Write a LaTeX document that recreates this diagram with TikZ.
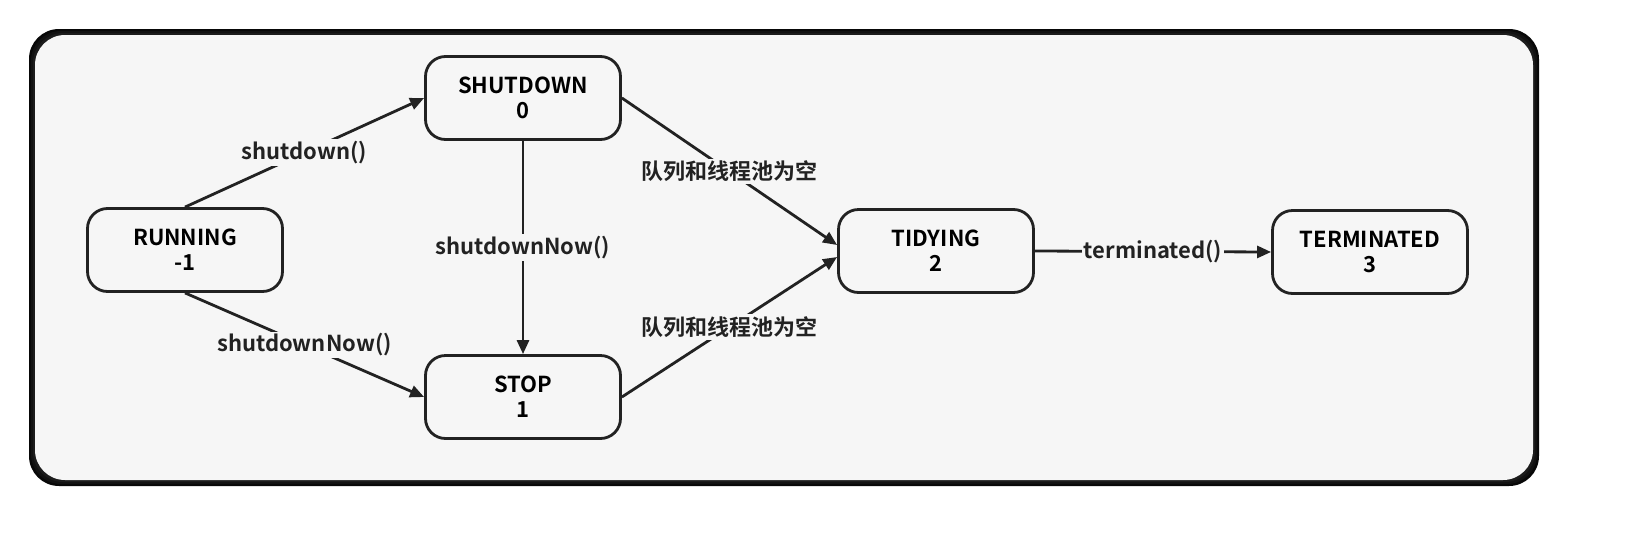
\documentclass[tikz,border=0pt]{standalone}
\usepackage{fontspec}
\setmainfont{Noto Sans CJK SC}[BoldFont=* Bold]
\usetikzlibrary{arrows.meta}
\definecolor{bg}{HTML}{F6F6F6}
\definecolor{ln}{HTML}{222222}
\begin{document}
\begin{tikzpicture}[x=0.5pt,y=-0.5pt,
  st/.style={draw=ln,line width=1.4pt,rounded corners=10pt,minimum width=97.5pt,minimum height=41.5pt,align=center,font=\bfseries\fontsize{11}{12.5}\selectfont,fill=bg},
  ed/.style={draw=ln,line width=1.4pt,-{Triangle[length=7pt,width=6pt]}},
  lb/.style={fill=bg,inner sep=1pt,font=\bfseries\fontsize{11}{12.5}\selectfont,text=ln}]
\useasboundingbox (0,0) rectangle (1646,542);
\fill[white] (0,0) rectangle (1646,542);
\foreach \i/\c in {6/97,4/93,2/89}{
  \fill[black!\c,rounded corners=15pt] (35-\i,35-\i) rectangle (1533+\i,480+\i);}
\fill[bg,rounded corners=15pt] (35,35) rectangle (1533,480);
\node[st] (run) at (185,250) {RUNNING\\-1};
\node[st] (sd) at (523,98) {SHUTDOWN\\0};
\node[st] (stop) at (523,397) {STOP\\1};
\node[st] (tidy) at (936,251) {TIDYING\\2};
\node[st] (term) at (1370,252) {TERMINATED\\3};
\draw[ed] (run.north) -- node[lb,pos=0.5]{shutdown()} (sd.west);
\draw[ed] (run.south) -- node[lb,pos=0.5]{shutdownNow()} (stop.west);
\draw[ed] (sd.south) -- node[lb]{shutdownNow()} (stop.north);
\draw[ed] (sd.east) -- node[lb,pos=0.5]{队列和线程池为空} ([yshift=3pt]tidy.west);
\draw[ed] (stop.east) -- node[lb,pos=0.5]{队列和线程池为空} ([yshift=-3pt]tidy.west);
\draw[ed] (tidy.east) -- node[lb]{terminated()} (term.west);
\end{tikzpicture}
\end{document}
